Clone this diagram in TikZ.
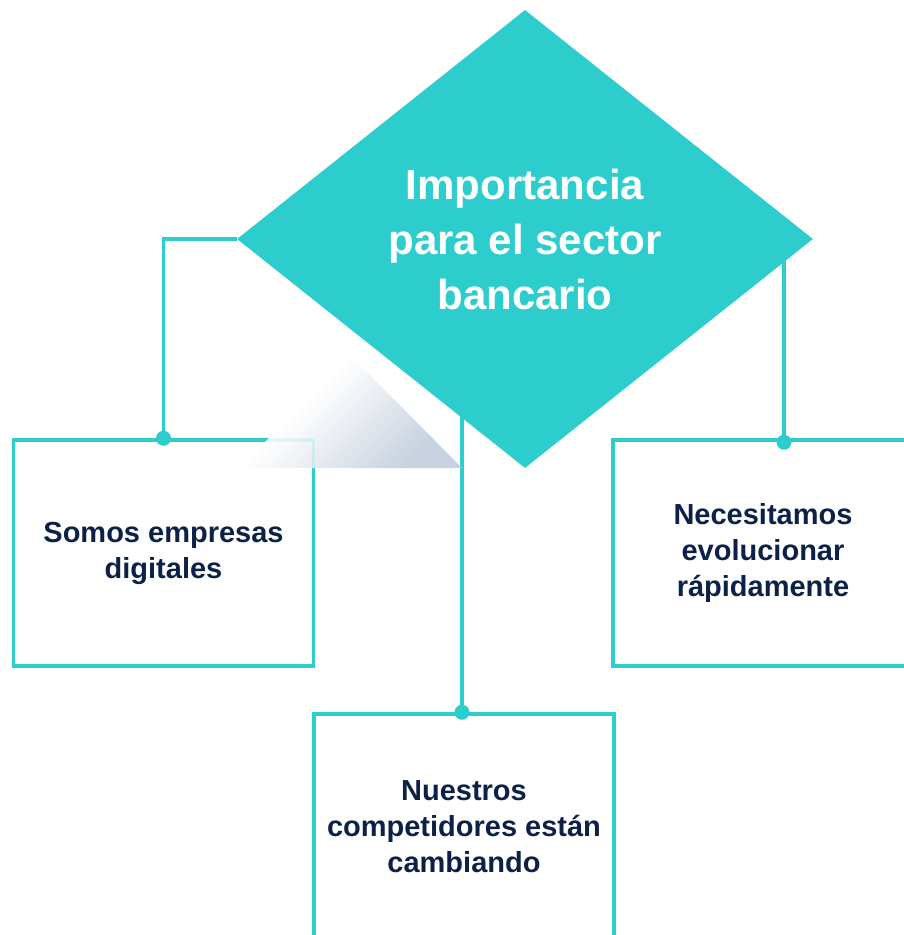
\documentclass[tikz,border=0pt]{standalone}
\usepackage{fontspec}
\setmainfont{Liberation Sans}
\usetikzlibrary{shapes.geometric,backgrounds,positioning}

\definecolor{aqua}{HTML}{2ECDCD}
\definecolor{navy}{HTML}{0D2148}
\definecolor{shadowgray}{HTML}{C2CDDC}

\tikzset{
  card/.style={draw=aqua, line width=3.5pt, minimum width=300pt, minimum height=226pt,
    inner sep=0pt, text=navy, align=center, font=\bfseries\fontsize{29}{36}\selectfont},
  link/.style={draw=aqua, line width=3.5pt},
}

\begin{document}
\begin{tikzpicture}[x=1pt,y=-1pt]
\useasboundingbox (0,0) rectangle (903,935);

\node [card] (somos)       at (163.5,553) {Somos empresas\\digitales};
\node [card] (necesitamos) at (763,553)   {Necesitamos\\evolucionar\\rápidamente};
\node [card] (nuestros)    at (464,827)   {Nuestros\\competidores están\\cambiando};

% shadow under the diamond
\begin{scope}[transparency group, opacity=0.92]
\clip (351,356) -- (462,468) -- (239,468) -- cycle;
\foreach \i [evaluate=\i as \p using 2.5*\i, evaluate=\i as \c using 707+4*\i] in {0,...,39}
    \fill [shadowgray!\p!white] (\c-350,350) -- (\c-346,350) -- (\c-466,470) -- (\c-470,470) -- cycle;
\fill [shadowgray] (867-350,350) -- (1000,350) -- (1000,470) -- (867-470,470) -- cycle;
\end{scope}

\node [diamond, fill=aqua, minimum width=576pt, minimum height=458pt, inner sep=0pt,
  text=white, align=center, font=\bfseries\fontsize{42}{55}\selectfont]
  (dia) at (525,239) {Importancia\\para el sector\\bancario};

\coordinate (ldot) at (somos.north);
\coordinate (mdot) at ([xshift=-2pt]nuestros.north);
\coordinate (rdot) at ([xshift=21pt,yshift=-4pt]necesitamos.north);

\begin{scope}[on background layer]
\draw [link] (dia.west) -| (ldot);
\draw [link] (dia.center -| mdot) -- (mdot);
\draw [link] (dia.center -| rdot) -- (rdot);
\end{scope}

\foreach \d in {ldot,mdot,rdot}
    \fill [aqua] (\d) circle (7.5pt);

\end{tikzpicture}
\end{document}
